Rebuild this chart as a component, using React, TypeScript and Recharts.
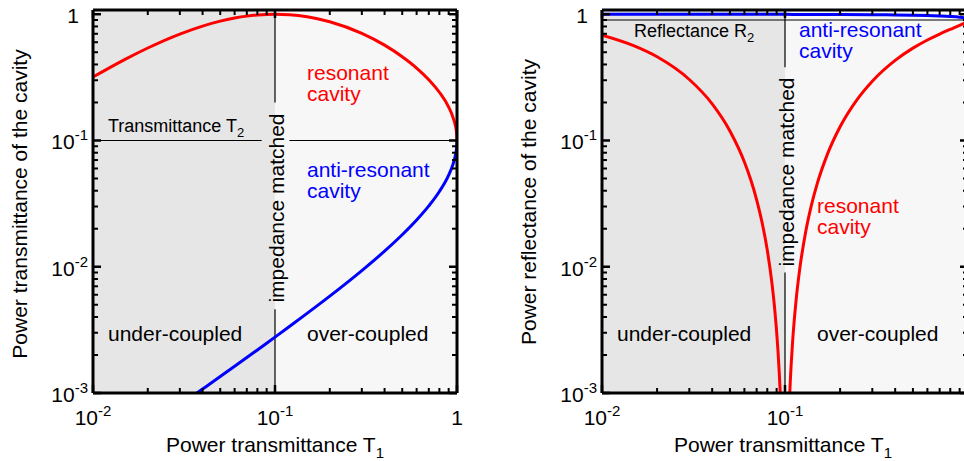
import React from 'react';
import { LineChart, Line, XAxis, YAxis, ReferenceLine, CartesianGrid } from 'recharts';

const FONT = '"Liberation Sans", Arial, Helvetica, sans-serif';

// T1 sample points for the transmittance curves and the anti-resonant reflectance
const t1Main = [0.01, 0.015, 0.02, 0.03, 0.04, 0.05, 0.06, 0.07, 0.08, 0.09, 0.1, 0.12, 0.15, 0.2, 0.3, 0.4, 0.5, 0.6, 0.7, 0.8, 0.9, 0.95, 0.98, 0.995, 1];
const transResonant = [0.318, 0.439, 0.54, 0.696, 0.805, 0.881, 0.932, 0.966, 0.986, 0.997, 1.0, 0.991, 0.955, 0.872, 0.705, 0.569, 0.461, 0.375, 0.303, 0.241, 0.184, 0.153, 0.131, 0.114, 0.1];
const transAntiResonant = [0.000265, 0.000398, 0.000532, 0.000802, 0.001075, 0.00135, 0.001628, 0.001909, 0.002193, 0.00248, 0.00277, 0.00336, 0.00427, 0.00585, 0.00932, 0.01329, 0.01791, 0.02344, 0.03031, 0.03944, 0.05325, 0.06466, 0.07619, 0.08738, 0.1];
const reflAntiResonant = [0.99974, 0.9996, 0.99947, 0.9992, 0.99893, 0.99865, 0.99837, 0.99809, 0.99781, 0.99752, 0.99723, 0.99664, 0.99573, 0.99415, 0.99068, 0.98671, 0.98209, 0.97656, 0.96969, 0.96056, 0.94675, 0.93534, 0.92381, 0.91262, 0.9];

// denser sampling round the impedance matched dip (R goes to 0 at T1 = T2)
const t1Dip = [0.01, 0.015, 0.02, 0.03, 0.04, 0.05, 0.06, 0.065, 0.07, 0.075, 0.08, 0.085, 0.088, 0.09, 0.0915, 0.093, 0.094, 0.095,
  0.105, 0.106, 0.107, 0.108, 0.11, 0.115, 0.12, 0.13, 0.14, 0.15, 0.17, 0.2, 0.25, 0.3, 0.4, 0.5, 0.6, 0.7, 0.8, 0.9, 0.95, 0.98, 1];
const reflResonant = [0.682, 0.561, 0.46, 0.304, 0.195, 0.119, 0.0676, 0.04885, 0.0339, 0.02232, 0.01355, 0.00724, 0.0045, 0.00306, 0.00218, 0.001456, 0.001059, 0.000728,
  0.000663, 0.000946, 0.001275, 0.00165, 0.002533, 0.00545, 0.00928, 0.01918, 0.03145, 0.0455, 0.0769, 0.1283, 0.2146, 0.2949, 0.4311, 0.5386, 0.625, 0.6967, 0.7587, 0.8163, 0.847, 0.8693, 0.9];

const xTicks = [0.01, 0.02, 0.03, 0.04, 0.05, 0.06, 0.07, 0.08, 0.09, 0.1, 0.2, 0.3, 0.4, 0.5, 0.6, 0.7, 0.8, 0.9, 1];
const yTicks = [0.001, 0.002, 0.003, 0.004, 0.005, 0.006, 0.007, 0.008, 0.009, 0.01, 0.02, 0.03, 0.04, 0.05, 0.06, 0.07, 0.08, 0.09, 0.1, 0.2, 0.3, 0.4, 0.5, 0.6, 0.7, 0.8, 0.9, 1];

const T2 = 0.1;
const R2 = 0.9;
const MATCHED = 0.1;
const X_DOMAIN = [0.01, 1];
const Y_DOMAIN = [0.001, 1.08];

const transData = t1Main.map((t1, i) => ({ t1, res: transResonant[i], anti: transAntiResonant[i] }));
const reflAntiData = t1Main.map((t1, i) => ({ t1, anti: reflAntiResonant[i] }));
const reflResData = t1Dip.map((t1, i) => ({ t1, res: reflResonant[i] }));

const isMajor = (v: number) => {
  const l = Math.log10(v);
  return Math.abs(l - Math.round(l)) < 1e-6;
};

const Pow = ({ x, y, v, anchor }: { x: number; y: number; v: number; anchor: 'start' | 'middle' | 'end' }) => {
  const e = Math.round(Math.log10(v));
  if (e === 0) {
    return <text x={x} y={y} textAnchor={anchor} fontSize={21} fontFamily={FONT} fill="#000">1</text>;
  }
  return (
    <text x={x} y={y} textAnchor={anchor} fontSize={21} fontFamily={FONT} fill="#000">
      <tspan>10</tspan>
      <tspan dy={-9} fontSize={15}>{e}</tspan>
    </text>
  );
};

// axis tick labels (decades only)
const tickLabel = (side: 'bottom' | 'left', maxLabel = 1) => (p: any) => {
  const v = p.payload.value;
  if (!isMajor(v) || v > maxLabel) return <g />;
  const x = Number(p.x);
  const y = Number(p.y);
  if (side === 'bottom') return <Pow x={x} y={y + 32} v={v} anchor="middle" />;
  return <Pow x={v === 1 ? x - 14 : x - 5} y={y + 9} v={v} anchor="end" />;
};

// background split at the impedance matched point
const splitAt = (props: any) => {
  const ax = props.xAxis;
  if (ax && typeof ax.scale === 'function') return [ax.scale(X_DOMAIN[0]), ax.scale(MATCHED)];
  const o = props.offset;
  const f = (Math.log10(MATCHED) - Math.log10(X_DOMAIN[0])) / (Math.log10(X_DOMAIN[1]) - Math.log10(X_DOMAIN[0]));
  return [o.left, o.left + o.width * f];
};

const frame = { stroke: '#000', strokeWidth: 3 };

const Txt = ({ x, y, color = '#000', size = 21, children }: any) => (
  <text x={x} y={y} fill={color} fontSize={size} fontFamily={FONT}>{children}</text>
);

const VTxt = ({ x, y, children }: any) => (
  <text transform={`rotate(-90 ${x} ${y})`} x={x} y={y} textAnchor="middle" dominantBaseline="central" fontSize={21} fontFamily={FONT} fill="#000">{children}</text>
);

// inward tick marks on the four sides of a plot box (same log mapping as the axes)
const TickFrame = ({ left, top, right, bottom }: { left: number; top: number; right: number; bottom: number }) => {
  const lx0 = Math.log10(X_DOMAIN[0]);
  const lx1 = Math.log10(X_DOMAIN[1]);
  const ly0 = Math.log10(Y_DOMAIN[0]);
  const ly1 = Math.log10(Y_DOMAIN[1]);
  const px = (v: number) => left + ((Math.log10(v) - lx0) / (lx1 - lx0)) * (right - left);
  const py = (v: number) => bottom - ((Math.log10(v) - ly0) / (ly1 - ly0)) * (bottom - top);
  const marks: any[] = [];
  xTicks.forEach((v) => {
    const m = isMajor(v);
    const len = m ? 8 : 5;
    const w = m ? 2.5 : 2;
    const x = px(v);
    marks.push(<line key={'b' + v} x1={x} x2={x} y1={bottom} y2={bottom - len} stroke="#000" strokeWidth={w} />);
    marks.push(<line key={'t' + v} x1={x} x2={x} y1={top} y2={top + len} stroke="#000" strokeWidth={w} />);
  });
  yTicks.forEach((v) => {
    const m = isMajor(v);
    const len = m ? 8 : 5;
    const w = m ? 2.5 : 2;
    const y = py(v);
    marks.push(<line key={'l' + v} x1={left} x2={left + len} y1={y} y2={y} stroke="#000" strokeWidth={w} />);
    marks.push(<line key={'r' + v} x1={right} x2={right - len} y1={y} y2={y} stroke="#000" strokeWidth={w} />);
  });
  return <g>{marks}</g>;
};

const axes = (yWidth: number, maxXLabel: number, bare = false) => [
  <XAxis key="xb" dataKey="t1" type="number" scale="log" domain={X_DOMAIN} allowDataOverflow ticks={xTicks} interval={0}
    height={68} tickSize={0} tickMargin={0} tickLine={false} axisLine={bare ? false : frame} tick={bare ? false : tickLabel('bottom', maxXLabel)} />,
  <XAxis key="xt" xAxisId="top" orientation="top" dataKey="t1" type="number" scale="log" domain={X_DOMAIN} allowDataOverflow
    height={1} tickLine={false} axisLine={bare ? false : frame} tick={false} />,
  <YAxis key="yl" type="number" scale="log" domain={Y_DOMAIN} allowDataOverflow ticks={yTicks} interval={0} width={yWidth}
    tickSize={0} tickMargin={0} tickLine={false} axisLine={bare ? false : frame} tick={bare ? false : tickLabel('left')} />,
  <YAxis key="yr" yAxisId="right" orientation="right" type="number" scale="log" domain={Y_DOMAIN} allowDataOverflow width={1}
    tickLine={false} axisLine={bare ? false : frame} tick={false} />,
];

// shaded background in a chart of its own underneath, same layout
const Backdrop = ({ width, yWidth, right }: { width: number; yWidth: number; right: number }) => (
  <div style={{ position: 'absolute', left: 0, top: 0 }}>
    <LineChart width={width} height={461} data={transData} margin={{ top: 9, right, bottom: 0, left: 0 }}>
      <CartesianGrid horizontal={false} vertical stroke="transparent" verticalCoordinatesGenerator={splitAt}
        verticalFill={['#e6e6e6', '#f7f7f7']} fillOpacity={1} />
      {axes(yWidth, 1, true)}
    </LineChart>
  </div>
);

export default function App() {
  return (
    <div style={{ position: 'absolute', left: 0, top: 0, width: 964, height: 461, overflow: 'hidden', background: '#fff' }}>
      {/* left: transmittance */}
      <div style={{ position: 'absolute', left: 0, top: 0, width: 480, height: 461 }}>
        <Backdrop width={480} yWidth={93} right={22} />
        <div style={{ position: 'absolute', left: 0, top: 0 }}>
          <LineChart width={480} height={461} margin={{ top: 9, right: 22, bottom: 0, left: 0 }}>
            {axes(93, 1)}
            <ReferenceLine segment={[{ x: 0.01, y: T2 }, { x: 0.0845, y: T2 }]} stroke="#000" strokeWidth={1.2} />
            <ReferenceLine segment={[{ x: 0.12, y: T2 }, { x: 1, y: T2 }]} stroke="#000" strokeWidth={1.2} />
            <ReferenceLine segment={[{ x: MATCHED, y: 1.08 }, { x: MATCHED, y: 0.2 }]} stroke="#000" strokeWidth={1.2} />
            <ReferenceLine segment={[{ x: MATCHED, y: 0.0046 }, { x: MATCHED, y: 0.001 }]} stroke="#000" strokeWidth={1.2} />
            <Line data={transData} dataKey="res" type="monotone" stroke="#ff0000" strokeWidth={3} dot={false} isAnimationActive={false} />
            <Line data={transData} dataKey="anti" type="monotone" stroke="#0000ff" strokeWidth={3} dot={false} isAnimationActive={false} />
          </LineChart>
        </div>
      </div>
      {/* right: reflectance */}
      <div style={{ position: 'absolute', left: 484, top: 0, width: 500, height: 461 }}>
        <Backdrop width={500} yWidth={118} right={15} />
        <div style={{ position: 'absolute', left: 0, top: 0 }}>
          <LineChart width={500} height={461} margin={{ top: 9, right: 15, bottom: 0, left: 0 }}>
            {axes(118, 0.5)}
            <ReferenceLine segment={[{ x: 0.01, y: R2 }, { x: 1, y: R2 }]} stroke="#000" strokeWidth={1.2} />
            <ReferenceLine segment={[{ x: MATCHED, y: 1.08 }, { x: MATCHED, y: 0.38 }]} stroke="#000" strokeWidth={1.2} />
            <ReferenceLine segment={[{ x: MATCHED, y: 0.009 }, { x: MATCHED, y: 0.001 }]} stroke="#000" strokeWidth={1.2} />
            <Line data={reflAntiData} dataKey="anti" type="monotone" stroke="#0000ff" strokeWidth={3} dot={false} isAnimationActive={false} />
            <Line data={reflResData} dataKey="res" type="monotone" stroke="#ff0000" strokeWidth={3} dot={false} isAnimationActive={false} />
          </LineChart>
        </div>
      </div>
      {/* tick marks and annotations */}
      <svg width={964} height={461} style={{ position: 'absolute', left: 0, top: 0, pointerEvents: 'none' }}>
        <TickFrame left={93} top={10} right={457} bottom={393} />
        <TickFrame left={602} top={10} right={968} bottom={393} />

        <Txt x={108} y={132} size={18}>Transmittance T<tspan dy={5} fontSize={13}>2</tspan></Txt>
        <Txt x={307} y={80} color="#ff0000">resonant</Txt>
        <Txt x={307} y={101} color="#ff0000">cavity</Txt>
        <Txt x={307} y={177} color="#0000ff">anti-resonant</Txt>
        <Txt x={307} y={198} color="#0000ff">cavity</Txt>
        <Txt x={108} y={341}>under-coupled</Txt>
        <Txt x={307} y={341}>over-coupled</Txt>
        <VTxt x={276} y={208}>impedance matched</VTxt>
        <VTxt x={19} y={204}>Power transmittance of the cavity</VTxt>
        <text x={275} y={452} textAnchor="middle" fontSize={21} fontFamily={FONT} fill="#000">Power transmittance T<tspan dy={6} fontSize={15}>1</tspan></text>

        <Txt x={634} y={37} size={18}>Reflectance R<tspan dy={5} fontSize={13}>2</tspan></Txt>
        <Txt x={799} y={37} color="#0000ff">anti-resonant</Txt>
        <Txt x={799} y={58} color="#0000ff">cavity</Txt>
        <Txt x={817} y={213} color="#ff0000">resonant</Txt>
        <Txt x={817} y={234} color="#ff0000">cavity</Txt>
        <Txt x={617} y={341}>under-coupled</Txt>
        <Txt x={817} y={341}>over-coupled</Txt>
        <VTxt x={786} y={172}>impedance matched</VTxt>
        <VTxt x={528} y={202}>Power reflectance of the cavity</VTxt>
        <text x={783} y={452} textAnchor="middle" fontSize={21} fontFamily={FONT} fill="#000">Power transmittance T<tspan dy={6} fontSize={15}>1</tspan></text>
      </svg>
    </div>
  );
}
